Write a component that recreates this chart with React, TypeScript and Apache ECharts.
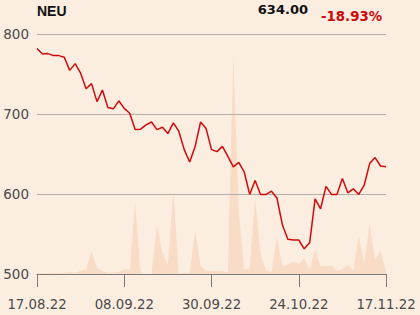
import React, { useEffect, useRef } from "react";
import * as echarts from "echarts";

const dates: string[] = [
  "17.08.22", "18.08.22", "19.08.22", "22.08.22", "23.08.22", "24.08.22", "25.08.22", "26.08.22",
  "29.08.22", "30.08.22", "31.08.22", "01.09.22", "02.09.22", "05.09.22", "06.09.22", "07.09.22",
  "08.09.22", "09.09.22", "12.09.22", "13.09.22", "14.09.22", "15.09.22", "16.09.22", "19.09.22",
  "20.09.22", "21.09.22", "22.09.22", "23.09.22", "26.09.22", "27.09.22", "28.09.22", "29.09.22",
  "30.09.22", "03.10.22", "04.10.22", "05.10.22", "06.10.22", "07.10.22", "10.10.22", "11.10.22",
  "12.10.22", "13.10.22", "14.10.22", "17.10.22", "18.10.22", "19.10.22", "20.10.22", "21.10.22",
  "24.10.22", "25.10.22", "26.10.22", "27.10.22", "28.10.22", "02.11.22", "03.11.22", "04.11.22",
  "07.11.22", "08.11.22", "09.11.22", "10.11.22", "11.11.22", "14.11.22", "15.11.22", "16.11.22",
  "17.11.22",
];

const prices: number[] = [
  782, 775, 775.5, 773, 773, 771, 754.5, 763, 751, 731.5, 738, 715.5, 730, 708, 706.5, 716.5,
  707, 701, 680.5, 681, 686.5, 690, 680.5, 683.5, 675.5, 689, 678.5, 655.5, 640, 659.5, 690, 682,
  655.5, 653, 659.5, 647, 634, 639.5, 627.5, 599.5, 617, 599.5, 599.5, 603.5, 595, 561.5, 543.5,
  542.5, 542.5, 531.5, 539, 594, 581.5, 609.5, 599.5, 599.5, 619.5, 601.5, 606.5, 599.5, 611, 638,
  645.5, 635, 634,
];

const volumes: number[] = [
  0.7, 0.7, 0.7, 0.7, 1, 1.3, 2, 1, 3.3, 4.3, 23.3, 6, 3, 1, 1.3, 1.7,
  5, 3.7, 72.7, 0, 0, 0, 49.3, 21, 9.3, 82.7, 0, 1.3, 0.7, 43.7, 7.7, 3.3,
  3.3, 3, 2.7, 1.5, 219, 62, 4, 6, 75, 20, 4, 2, 36.7, 7.7, 9.3, 12.7,
  10, 15.3, 4.3, 25.3, 7.7, 7.7, 8.3, 3.3, 5, 9.3, 3.3, 38.3, 11, 50.3,
  14.3, 23.7, 2,
];

const titleText = "NEU";
const lastPriceText = "634.00";
const changeText = "-18.93%";

const yTicks = { min: 500, max: 800, interval: 100 };

const FONT = "DejaVu Sans";
const TITLE_FONT = "Liberation Sans";

export default function App() {
  const ref = useRef<HTMLDivElement>(null);

  useEffect(() => {
    document.body.style.margin = "0";
    const chart = echarts.init(ref.current!, null, { renderer: "svg" });
    chart.setOption({
      animation: false,
      backgroundColor: "#fcede1",
      textStyle: { fontFamily: FONT },
      grid: { left: 37, right: 34, top: 34, height: 240, outerBoundsMode: "none" },
      xAxis: {
        type: "category",
        data: dates,
        boundaryGap: false,
        z: 2,
        axisLine: { lineStyle: { color: "#7d7a77", width: 1 } },
        axisTick: { show: true, interval: 15, length: 13, lineStyle: { color: "#7d7a77" } },
        axisLabel: { interval: 15, margin: 24, fontSize: 13.3, color: "#4a4a4a", fontFamily: FONT },
        splitLine: { show: false },
      },
      yAxis: [
        {
          type: "value",
          min: yTicks.min,
          max: yTicks.max,
          interval: yTicks.interval,
          z: 2,
          axisLine: { show: false },
          axisTick: { show: false },
          axisLabel: { margin: 8, fontSize: 13.5, color: "#4a4a4a", fontFamily: FONT },
          splitLine: { lineStyle: { color: "#b3aea9", width: 1 } },
        },
        {
          type: "value",
          min: 0,
          max: (v: { max: number }) => v.max * 1.096,
          show: false,
          splitLine: { show: false },
        },
      ],
      series: [
        {
          type: "line",
          yAxisIndex: 1,
          data: volumes,
          symbol: "none",
          z: 1,
          lineStyle: { width: 0 },
          areaStyle: { color: "#f8dcc6", opacity: 1 },
          silent: true,
        },
        {
          type: "line",
          yAxisIndex: 0,
          data: prices,
          symbol: "none",
          z: 3,
          lineStyle: { color: "#d10a0a", width: 1.5 },
        },
      ],
      graphic: [
        {
          type: "text",
          x: 37,
          y: 10.5,
          style: {
            text: titleText,
            fill: "#111",
            font: `bold 14px "${TITLE_FONT}"`,
            align: "left",
            verticalAlign: "middle",
          },
        },
        {
          type: "text",
          x: 308,
          y: 9.5,
          style: {
            text: lastPriceText,
            fill: "#111",
            font: `bold 13px "${FONT}"`,
            align: "right",
            verticalAlign: "middle",
          },
        },
        {
          type: "text",
          x: 382,
          y: 16.5,
          style: {
            text: changeText,
            fill: "#cc0a0a",
            font: `bold 13.3px "${FONT}"`,
            align: "right",
            verticalAlign: "middle",
          },
        },
      ],
    });
    return () => chart.dispose();
  }, []);

  return (
    <div
      ref={ref}
      style={{ position: "fixed", left: 0, top: 0, width: 420, height: 315 }}
    />
  );
}
